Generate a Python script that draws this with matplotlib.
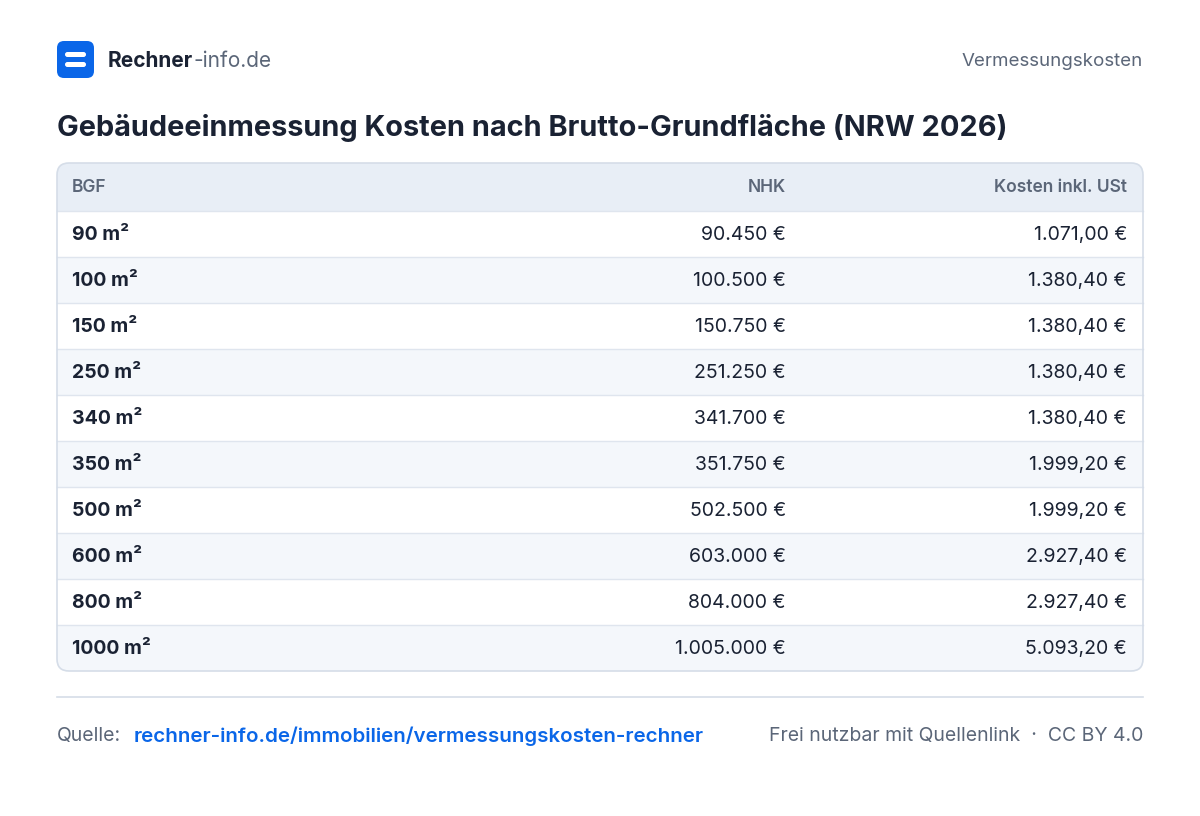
import matplotlib
matplotlib.use("Agg")
import matplotlib.pyplot as plt
from matplotlib.patches import FancyBboxPatch, Rectangle

bgf = ["90 m²", "100 m²", "150 m²", "250 m²", "340 m²", "350 m²", "500 m²", "600 m²", "800 m²", "1000 m²"]
nhk = ["90.450 €", "100.500 €", "150.750 €", "251.250 €", "341.700 €", "351.750 €", "502.500 €", "603.000 €", "804.000 €", "1.005.000 €"]
kosten = ["1.071,00 €", "1.380,40 €", "1.380,40 €", "1.380,40 €", "1.380,40 €", "1.999,20 €", "1.999,20 €", "2.927,40 €", "2.927,40 €", "5.093,20 €"]
headers = ["BGF", "NHK", "Kosten inkl. USt"]

plt.rcParams['font.family'] = ['Inter', 'DejaVu Sans']
fig = plt.figure(figsize=(12, 8.16), dpi=100)
ax = fig.add_axes([0, 0, 1, 1])
ax.set_xlim(0, 1200); ax.set_ylim(816, 0); ax.axis('off')

dark = "#1a2233"; grey = "#5b6678"; border = "#d5dde8"
VA = 'center_baseline'
# logo
ax.add_patch(FancyBboxPatch((57, 41), 37, 37, boxstyle="round,pad=0,rounding_size=7", fc="#0a66e8", ec="none"))
ax.add_patch(FancyBboxPatch((65, 52), 21, 5, boxstyle="round,pad=0,rounding_size=2.5", fc="white", ec="none"))
ax.add_patch(FancyBboxPatch((65, 62), 21, 5, boxstyle="round,pad=0,rounding_size=2.5", fc="white", ec="none"))
t = ax.text(108, 59, "Rechner", fontsize=15, fontweight='bold', color=dark, va=VA)
fig.canvas.draw()
bb = t.get_window_extent()
ax.annotate("-info.de", xy=(bb.x1, 816 - 59), xycoords='figure pixels', fontsize=15, color=grey, va=VA)
ax.text(1143, 59, "Vermessungskosten", fontsize=13.5, color=grey, ha='right', va=VA)
ax.text(57, 125, "Gebäudeeinmessung Kosten nach Brutto-Grundfläche (NRW 2026)", fontsize=20.8, fontweight='bold', color=dark, va=VA)

# table
L, R, T, B = 57, 1143, 163, 671
hh, rh = 48, 46
ax.add_patch(FancyBboxPatch((L, T), R - L, B - T, boxstyle="round,pad=0,rounding_size=12", fc="white", ec="none", zorder=1))
clip = FancyBboxPatch((L, T), R - L, B - T, boxstyle="round,pad=0,rounding_size=12", fc="none", ec=border, lw=1.2, zorder=5)
ax.add_patch(clip)
hdr = Rectangle((L, T), R - L, hh, fc="#e8eef6", ec="none", zorder=2)
ax.add_patch(hdr); hdr.set_clip_path(clip)
hs = 12.5
ax.text(72, T + hh / 2 - 1, headers[0], fontsize=hs, fontweight='semibold', color=grey, va=VA, zorder=6)
ax.text(786, T + hh / 2 - 1, headers[1], fontsize=hs, fontweight='semibold', color=grey, va=VA, ha='right', zorder=6)
ax.text(1127, T + hh / 2 - 1, headers[2], fontsize=hs, fontweight='semibold', color=grey, va=VA, ha='right', zorder=6)
fs = 14
for i in range(len(bgf)):
    y0 = T + hh + i * rh
    if i % 2 == 1:
        r = Rectangle((L, y0), R - L, rh, fc="#f4f7fb", ec="none", zorder=2)
        ax.add_patch(r); r.set_clip_path(clip)
    ax.plot([L, R], [y0, y0], color="#dfe5ee", lw=1, zorder=3)
    yc = y0 + rh / 2 - 1
    ax.text(72, yc, bgf[i], fontsize=fs, fontweight='bold', color=dark, va=VA, zorder=6)
    ax.text(786, yc, nhk[i], fontsize=fs, color=dark, va=VA, ha='right', zorder=6)
    ax.text(1127, yc, kosten[i], fontsize=fs, color=dark, va=VA, ha='right', zorder=6)

ax.plot([57, 1143], [697, 697], color="#d5dde8", lw=1.2)
ax.text(57, 734, "Quelle:", fontsize=14, color=grey, va=VA)
ax.text(134, 734, "rechner-info.de/immobilien/vermessungskosten-rechner", fontsize=14.8, fontweight='semibold', color="#0a66e8", va=VA)
ax.text(1143, 734, "Frei nutzbar mit Quellenlink  ·  CC BY 4.0", fontsize=14, color=grey, va=VA, ha='right')

fig.savefig("out.png", dpi=100, facecolor="white")
